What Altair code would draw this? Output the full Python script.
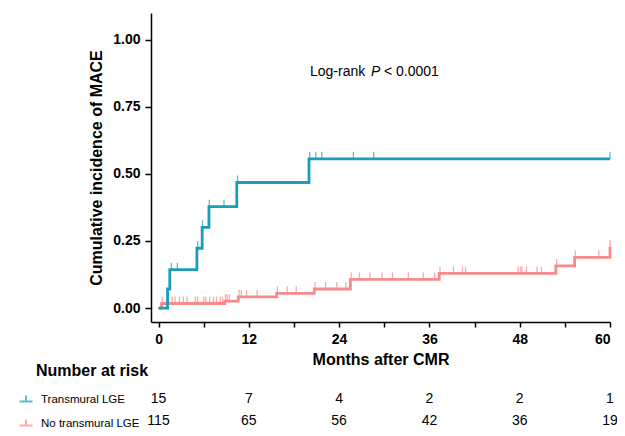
import altair as alt
import pandas as pd
import numpy as np

FONT = "Liberation Sans, Arial, Helvetica, sans-serif"
GROUPS = ["Transmural LGE", "No transmural LGE"]
COLORS = ["#1a9db8", "#f88a8a"]

# Kaplan-Meier style cumulative incidence steps (months, cumulative incidence)
trans_times = [0, 1.2, 1.5, 5.1, 5.8, 6.7, 10.4, 20.0, 60.0]
trans_cuminc = [0, 0.071, 0.143, 0.223, 0.301, 0.378, 0.468, 0.556, 0.556]
trans_censor = [1.7, 2.5, 5.2, 5.85, 6.75, 8.7, 10.5, 20.1, 20.9, 21.7, 25.9, 28.6, 60.0]

no_times = [0, 0.4, 8.8, 10.6, 15.7, 20.7, 25.5, 37.3, 52.8, 55.3, 60.0]
no_cuminc = [0, 0.017, 0.026, 0.042, 0.055, 0.071, 0.107, 0.129, 0.157, 0.189, 0.229]
no_censor = [0.5, 1.8, 2.2, 2.8, 3.3, 3.8, 4.9, 5.2, 6.0, 6.3, 6.8, 7.3, 7.7, 8.2, 8.5,
             8.9, 9.1, 9.4,
             10.7, 11.0, 11.7, 13.1,
             15.8, 17.1, 18.3,
             20.8, 22.2, 23.7, 24.9,
             25.6, 26.7, 28.1, 29.7, 31.1, 33.2, 35.2, 36.7,
             37.4, 39.2, 40.4, 40.8, 47.8, 48.1, 48.3, 48.9, 50.3, 50.9,
             52.9, 55.4, 58.5, 60.0]

risk_months = [0, 12, 24, 36, 48, 60]
risk_trans = [15, 7, 4, 2, 2, 1]
risk_no = [115, 65, 56, 42, 36, 19]


def step_value(times, vals, t):
    i = np.searchsorted(np.array(times), t, side="right") - 1
    return vals[max(i, 0)]


curves = pd.concat([
    pd.DataFrame({"group": GROUPS[0], "month": trans_times, "value": trans_cuminc}),
    pd.DataFrame({"group": GROUPS[1], "month": no_times, "value": no_cuminc}),
], ignore_index=True)

censor = pd.concat([
    pd.DataFrame({"group": GROUPS[0], "month": trans_censor,
                  "value": [step_value(trans_times, trans_cuminc, t) for t in trans_censor]}),
    pd.DataFrame({"group": GROUPS[1], "month": no_censor,
                  "value": [step_value(no_times, no_cuminc, t) for t in no_censor]}),
], ignore_index=True)

risk = pd.DataFrame({"month": risk_months, "trans": risk_trans, "no": risk_no})

x_enc = alt.X("month:Q",
              scale=alt.Scale(domain=[-1, 60], nice=False, zero=False),
              axis=alt.Axis(values=list(range(0, 61, 6)),
                            labelExpr="datum.value % 12 == 0 ? datum.label : ''",
                            title="Months after CMR", titlePadding=5, labelPadding=5,
                            tickSize=5))
y_enc = alt.Y("value:Q",
              scale=alt.Scale(domain=[-0.052, 1.10], nice=False, zero=False),
              axis=alt.Axis(values=[0, 0.25, 0.5, 0.75, 1.0], format=".2f",
                            title="Cumulative incidence of MACE", titlePadding=8,
                            labelPadding=5, tickSize=6))
color_scale = alt.Scale(domain=GROUPS, range=COLORS)

legend = alt.Legend(title=None, orient="none", legendX=-132.5, legendY=379,
                    symbolType="M-1,0.3L1,0.3M0,0.3L0,-0.6", symbolSize=169,
                    symbolStrokeWidth=2, labelFont=FONT, labelFontSize=11.5,
                    labelColor="black", labelOffset=7.5, rowPadding=9, padding=0)

base_curves = alt.Chart(curves)
red_line = base_curves.transform_filter(alt.datum.group == GROUPS[1]).mark_line(
    interpolate="step-after", strokeWidth=2.8).encode(
    x=x_enc, y=y_enc, color=alt.Color("group:N", scale=color_scale, legend=legend))
blue_line = base_curves.transform_filter(alt.datum.group == GROUPS[0]).mark_line(
    interpolate="step-after", strokeWidth=2.8).encode(
    x="month:Q", y="value:Q", color=alt.Color("group:N", scale=color_scale, legend=legend))

ticks = alt.Chart(censor).mark_tick(orient="vertical", thickness=1.3, size=7, yOffset=-3.5).encode(
    x="month:Q", y="value:Q", color=alt.Color("group:N", scale=color_scale, legend=legend))

risk_trans_txt = alt.Chart(risk).mark_text(font=FONT, fontSize=14, align="center",
                                           baseline="middle", color="black").encode(
    x="month:Q", y=alt.value(385.5), text="trans:Q")
risk_no_txt = alt.Chart(risk).mark_text(font=FONT, fontSize=14, align="center",
                                        baseline="middle", color="black").encode(
    x="month:Q", y=alt.value(407.5), text="no:Q")

one = pd.DataFrame({"a": [0]})
nar = alt.Chart(one).mark_text(text="Number at risk", font=FONT, fontSize=16, fontWeight="bold",
                               align="left", baseline="middle", color="black").encode(
    x=alt.value(-115), y=alt.value(358))
lr1 = alt.Chart(one).mark_text(text="Log-rank", font=FONT, fontSize=14, align="left",
                               baseline="middle", color="black").encode(
    x=alt.value(159), y=alt.value(59))
lr2 = alt.Chart(one).mark_text(text="P", font=FONT, fontSize=14, fontStyle="italic", align="left",
                               baseline="middle", color="black").encode(
    x=alt.value(220), y=alt.value(59))
lr3 = alt.Chart(one).mark_text(text="< 0.0001", font=FONT, fontSize=14, align="left",
                               baseline="middle", color="black").encode(
    x=alt.value(233), y=alt.value(59))

chart = alt.layer(red_line, blue_line, ticks, risk_trans_txt, risk_no_txt, nar, lr1, lr2, lr3).properties(
    width=459, height=309,
    autosize=alt.AutoSizeParams(type="none"),
    padding={"left": 143, "top": 5, "right": 7, "bottom": 106},
).configure_view(stroke=None).configure_axis(
    grid=False, domainColor="black", domainWidth=1.5, tickColor="black", tickWidth=1.5,
    labelFont=FONT, labelFontSize=14, labelFontWeight="bold", labelColor="black",
    titleFont=FONT, titleFontSize=16, titleFontWeight="bold", titleColor="black",
)

chart.save("out.html", embed_options={"renderer": "svg", "actions": False})
